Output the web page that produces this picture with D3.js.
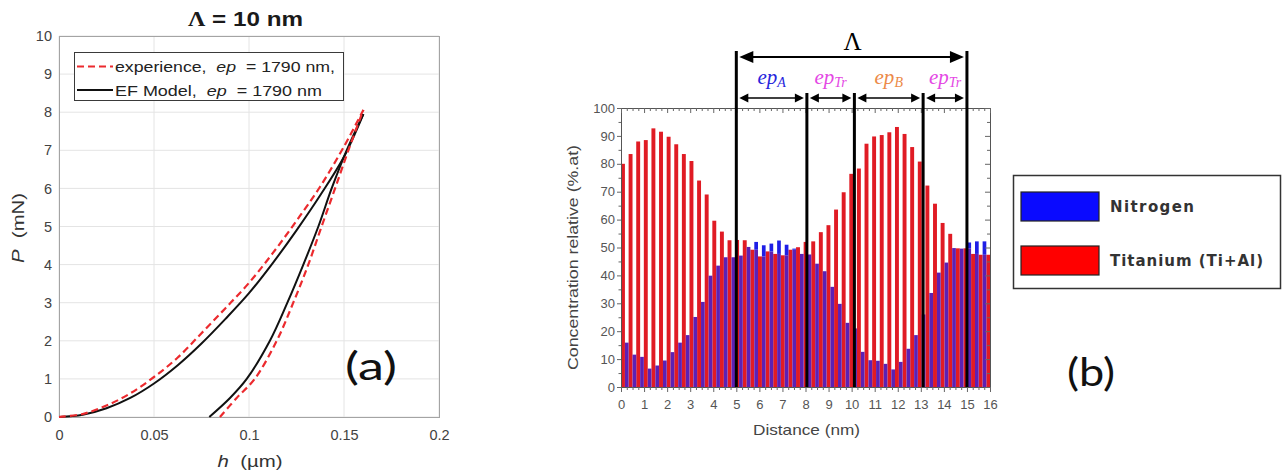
<!DOCTYPE html>
<html><head><meta charset="utf-8">
<script src="https://cdn.jsdelivr.net/npm/d3@7"></script>
<style>body{margin:0;background:#fff;} svg{display:block;}</style>
</head><body>
<svg id="c" width="1282" height="473"></svg>
<script>
// ---------- Panel (a) data: load-displacement curves ----------
const loadH        = [0, 0.0125, 0.025, 0.0375, 0.05, 0.0625, 0.075, 0.0875, 0.1, 0.1125, 0.125, 0.1375, 0.15, 0.1602];
const loadExpP     = [0, 0.08, 0.3, 0.62, 1.05, 1.56, 2.2, 2.85, 3.52, 4.3, 5.15, 6.05, 7.1, 8.06];
const loadModelP   = [0, 0.06, 0.23, 0.5, 0.88, 1.36, 1.93, 2.57, 3.25, 4.04, 4.9, 5.82, 6.83, 7.95];
const unloadExpH   = [0.0847, 0.0935, 0.103, 0.1146, 0.1233, 0.1312, 0.1382, 0.1453, 0.1523, 0.1602];
const unloadExpP   = [0, 0.5, 1, 2, 3, 4, 5, 6, 7, 8.06];
const unloadModelH = [0.0791, 0.09, 0.0988, 0.111, 0.1202, 0.1286, 0.1365, 0.1435, 0.1514, 0.1602];
const unloadModelP = [0, 0.5, 1, 2, 3, 4, 5, 6, 7, 7.95];
const hTicks       = [0, 0.05, 0.1, 0.15, 0.2];
const hTickLabels  = ['0', '0.05', '0.1', '0.15', '0.2'];
const pTicks       = [0, 1, 2, 3, 4, 5, 6, 7, 8, 9, 10];
const seriesA      = ['experience', 'EF Model'];

// ---------- Panel (b) data: concentration profile ----------
const distance = [0, 0.33, 0.66, 0.99, 1.32, 1.65, 1.98, 2.31, 2.64, 2.97, 3.3, 3.63, 3.96, 4.29, 4.62, 4.95,
  5.28, 5.61, 5.94, 6.27, 6.6, 6.93, 7.26, 7.59, 7.92, 8.25, 8.58, 8.91, 9.24, 9.57, 9.9, 10.23, 10.56, 10.89,
  11.22, 11.55, 11.88, 12.21, 12.54, 12.87, 13.2, 13.53, 13.86, 14.19, 14.52, 14.85, 15.18, 15.51, 15.84];
const titanium = [80, 83.5, 88, 88.5, 92.7, 91.5, 89.7, 87, 83.5, 81, 74, 69, 59.6, 55.7, 52.6, 52.7,
  52.6, 49.2, 46.8, 48.6, 47.7, 47.2, 49.2, 50.1, 52, 52.2, 55.5, 58, 63.6, 69.8, 76.4, 78.3, 87.2, 89.8,
  90.3, 91.3, 93.2, 90.7, 86, 80.8, 72.2, 65.7, 58.8, 54.9, 49.7, 49.7, 47.7, 47.4, 47.4];
const nitrogen = [15.9, 11.6, 10.8, 6.6, 7.7, 9.5, 12.5, 15.9, 18.6, 25.1, 30.5, 39.9, 43.5, 46.5, 46.5, 47.1,
  50.2, 52, 50.8, 51.4, 52.5, 51, 49.6, 47.7, 47.5, 44.2, 41.5, 35.9, 29.8, 23, 21, 12.6, 9.6, 9.4,
  8.3, 6.3, 9, 13.7, 18.6, 26, 33.7, 41, 44.6, 49.8, 49.6, 51.8, 52.2, 52.2, 52.2];
const distTicks   = [0,1,2,3,4,5,6,7,8,9,10,11,12,13,14,15,16];
const concTicks   = [0,10,20,30,40,50,60,70,80,90,100];
const boundaries  = [5, 8.06, 10.12, 13.1, 15];
const layerNames  = [['ep','A'], ['ep','Tr'], ['ep','B'], ['ep','Tr']];
const layerColors = ['#2626dc', '#e448e4', '#ec8a48', '#e448e4'];
const legendB     = ['Nitrogen', 'Titanium (Ti+Al)'];

const svg = d3.select('#c');
const SANS = 'Liberation Sans, Arial, sans-serif';

// ================= Panel (a) =================
const A = {x0: 59, x1: 439, y0: 417, y1: 36};
const xa = d3.scaleLinear().domain([0, 0.2]).range([A.x0, A.x1]);
const ya = d3.scaleLinear().domain([0, 10]).range([A.y0, A.y1]);
const gA = svg.append('g');

gA.append('rect').attr('x', A.x0).attr('y', A.y1).attr('width', A.x1 - A.x0).attr('height', A.y0 - A.y1).attr('fill', '#fff');
gA.selectAll('.gx').data(hTicks).join('line')
  .attr('x1', d => xa(d)).attr('x2', d => xa(d)).attr('y1', A.y0).attr('y2', A.y1)
  .attr('stroke', '#e4e4e4').attr('stroke-width', 1);
gA.selectAll('.gy').data(pTicks).join('line')
  .attr('y1', d => ya(d)).attr('y2', d => ya(d)).attr('x1', A.x0).attr('x2', A.x1)
  .attr('stroke', '#e4e4e4').attr('stroke-width', 1);
gA.append('rect').attr('x', A.x0 + 0.5).attr('y', A.y1 + 0.5).attr('width', A.x1 - A.x0).attr('height', A.y0 - A.y1)
  .attr('fill', 'none').attr('stroke', '#a4a4a4').attr('stroke-width', 1);

const axA_x = gA.append('g').attr('transform', `translate(0,${A.y0})`)
  .call(d3.axisBottom(xa).tickValues(hTicks).tickFormat((d, i) => hTickLabels[i]).tickSize(0).tickPadding(13));
const axA_y = gA.append('g').attr('transform', `translate(${A.x0},0)`)
  .call(d3.axisLeft(ya).tickValues(pTicks).tickFormat(d3.format('d')).tickSize(0).tickPadding(7));
[axA_x, axA_y].forEach(g => {
  g.select('.domain').remove();
  g.selectAll('text').attr('font-family', SANS).attr('font-size', 14.5).attr('fill', '#424242');
});

const lineA = d3.line().x(d => xa(d.h)).y(d => ya(d.p)).curve(d3.curveCatmullRom.alpha(0.5));
const zip = (hs, ps) => hs.map((h, i) => ({h, p: ps[i]}));
const modelCurves = [zip(loadH, loadModelP), zip(unloadModelH, unloadModelP)];
const expCurves = [zip(loadH, loadExpP), zip(unloadExpH, unloadExpP)];
gA.selectAll('.model').data(modelCurves).join('path').attr('d', lineA)
  .attr('fill', 'none').attr('stroke', '#111').attr('stroke-width', 2);
gA.selectAll('.exp').data(expCurves).join('path').attr('d', lineA)
  .attr('fill', 'none').attr('stroke', '#ec2a2e').attr('stroke-width', 2.2).attr('stroke-dasharray', '7,4');

// title
svg.append('text').attr('x', 245.5).attr('y', 26).attr('text-anchor', 'middle')
  .attr('font-family', SANS).attr('font-weight', 'bold').attr('font-size', 20).attr('fill', '#1a1a1a')
  .attr('textLength', 115).attr('lengthAdjust', 'spacingAndGlyphs')
  .call(t => { t.append('tspan').attr('font-family', 'Liberation Serif, serif').text('Λ'); t.append('tspan').text(' = 10 nm'); });

// axis titles
svg.append('text').attr('x', 250).attr('y', 467).attr('text-anchor', 'middle')
  .attr('font-family', SANS).attr('font-size', 16).attr('fill', '#333').style('white-space', 'pre')
  .attr('textLength', 65).attr('lengthAdjust', 'spacingAndGlyphs')
  .call(t => { t.append('tspan').attr('font-style', 'italic').text('h'); t.append('tspan').text('  (µm)'); });
svg.append('text').attr('transform', 'translate(24,228) rotate(-90)').attr('text-anchor', 'middle')
  .attr('font-family', SANS).attr('font-size', 16).attr('fill', '#333').style('white-space', 'pre')
  .attr('textLength', 70).attr('lengthAdjust', 'spacingAndGlyphs')
  .call(t => { t.append('tspan').attr('font-style', 'italic').text('P'); t.append('tspan').text('  (mN)'); });

// legend (a)
const legA = svg.append('g');
legA.append('rect').attr('x', 74.5).attr('y', 52.5).attr('width', 269).attr('height', 48)
  .attr('fill', '#fff').attr('stroke', '#3a3a3a').attr('stroke-width', 1);
const legRows = [
  {y: 66.5, stroke: '#ec2a2e', dash: '7,4', w: 2.2, name: seriesA[0], tail: '  = 1790 nm,', len: 220},
  {y: 90, stroke: '#111', dash: null, w: 2, name: seriesA[1], tail: '  = 1790 nm', len: 207}
];
legRows.forEach(r => {
  legA.append('line').attr('x1', 77).attr('x2', 113).attr('y1', r.y).attr('y2', r.y)
    .attr('stroke', r.stroke).attr('stroke-width', r.w).attr('stroke-dasharray', r.dash);
  legA.append('text').attr('x', 115).attr('y', r.y + 5.5).attr('font-family', SANS).attr('font-size', 15.5)
    .attr('fill', '#222').style('white-space', 'pre').attr('textLength', r.len).attr('lengthAdjust', 'spacingAndGlyphs')
    .call(t => {
      t.append('tspan').text(r.name + ',  ');
      t.append('tspan').attr('font-style', 'italic').text('ep');
      t.append('tspan').text(r.tail);
    });
});

// (a) label
svg.append('text').attr('x', 371).attr('y', 380).attr('text-anchor', 'middle')
  .attr('font-family', 'Lato, Open Sans, sans-serif').attr('font-size', 38).attr('fill', '#111')
  .attr('textLength', 52).attr('lengthAdjust', 'spacingAndGlyphs').text('(a)');

// ================= Panel (b) =================
const B = {x0: 621, x1: 990, y0: 387, y1: 108};
const xb = d3.scaleLinear().domain([0, 16]).range([B.x0, B.x1]);
const yb = d3.scaleLinear().domain([0, 100]).range([B.y0, B.y1]);
const gB = svg.append('g');
svg.append('defs').append('clipPath').attr('id', 'clipB').append('rect')
  .attr('x', B.x0).attr('y', B.y1).attr('width', B.x1 - B.x0).attr('height', B.y0 - B.y1);

const bars = distance.map((d, i) => ({d, ti: titanium[i], n: nitrogen[i]}));
const gBars = gB.append('g').attr('clip-path', 'url(#clipB)');
const RW = 0.17, GW = 0.33;
gBars.selectAll('.ti').data(bars).join('rect')
  .attr('x', b => xb(b.d)).attr('width', b => xb(b.d + RW) - xb(b.d))
  .attr('y', b => yb(b.ti)).attr('height', b => yb(0) - yb(b.ti)).attr('fill', '#e01b24');
gBars.selectAll('.nlow').data(bars).join('rect')
  .attr('x', b => xb(b.d + RW)).attr('width', b => xb(b.d + GW) - xb(b.d + RW))
  .attr('y', b => yb(Math.min(b.n, b.ti))).attr('height', b => yb(0) - yb(Math.min(b.n, b.ti))).attr('fill', '#5c20b4');
gBars.selectAll('.nhigh').data(bars.filter(b => b.n > b.ti)).join('rect')
  .attr('x', b => xb(b.d + RW)).attr('width', b => xb(b.d + GW) - xb(b.d + RW))
  .attr('y', b => yb(b.n)).attr('height', b => yb(b.ti) - yb(b.n)).attr('fill', '#1e1ee6');

// frame & ticks
gB.append('rect').attr('x', B.x0 + 0.5).attr('y', B.y1 + 0.5).attr('width', B.x1 - B.x0).attr('height', B.y0 - B.y1)
  .attr('fill', 'none').attr('stroke', '#555').attr('stroke-width', 1);
const minorX = d3.range(0, 16.001, 0.25).filter(v => Math.abs(v - Math.round(v)) > 1e-6);
const minorY = [5, 15, 25, 35, 45, 55, 65, 75, 85, 95];
const tickStyle = g => { g.select('.domain').remove(); g.selectAll('line').attr('stroke', '#666'); };
const labStyle = g => g.selectAll('text').attr('font-family', SANS).attr('font-size', 13).attr('fill', '#555');
gB.append('g').attr('transform', `translate(0,${B.y0})`)
  .call(d3.axisBottom(xb).tickValues(distTicks).tickFormat(d3.format('d')).tickSize(5).tickPadding(8)).call(tickStyle).call(labStyle);
gB.append('g').attr('transform', `translate(0,${B.y0})`)
  .call(d3.axisBottom(xb).tickValues(minorX).tickFormat('').tickSize(3)).call(tickStyle);
gB.append('g').attr('transform', `translate(0,${B.y1})`)
  .call(d3.axisTop(xb).tickValues(distTicks).tickFormat('').tickSize(-5)).call(tickStyle);
gB.append('g').attr('transform', `translate(0,${B.y1})`)
  .call(d3.axisTop(xb).tickValues(minorX).tickFormat('').tickSize(-3)).call(tickStyle);
gB.append('g').attr('transform', `translate(${B.x0},0)`)
  .call(d3.axisLeft(yb).tickValues(concTicks).tickFormat(d3.format('d')).tickSize(4).tickPadding(2)).call(tickStyle).call(labStyle);
gB.append('g').attr('transform', `translate(${B.x0},0)`)
  .call(d3.axisLeft(yb).tickValues(minorY).tickFormat('').tickSize(2.5)).call(tickStyle);
gB.append('g').attr('transform', `translate(${B.x1},0)`)
  .call(d3.axisRight(yb).tickValues(concTicks).tickFormat('').tickSize(-5)).call(tickStyle);
gB.append('g').attr('transform', `translate(${B.x1},0)`)
  .call(d3.axisRight(yb).tickValues(minorY).tickFormat('').tickSize(-3)).call(tickStyle);

// axis titles (b)
svg.append('text').attr('x', 806.5).attr('y', 435).attr('text-anchor', 'middle')
  .attr('font-family', SANS).attr('font-size', 15).attr('fill', '#444')
  .attr('textLength', 107).attr('lengthAdjust', 'spacingAndGlyphs').text('Distance (nm)');
svg.append('text').attr('transform', 'translate(578,257.5) rotate(-90)').attr('text-anchor', 'middle')
  .attr('font-family', SANS).attr('font-size', 14).attr('fill', '#444')
  .attr('textLength', 225).attr('lengthAdjust', 'spacingAndGlyphs').text('Concentration relative (%.at)');

// layer annotation
const gAnn = svg.append('g');
gAnn.selectAll('.bline').data(boundaries).join('line')
  .attr('x1', d => xb(d)).attr('x2', d => xb(d))
  .attr('y1', (d, i) => (i === 0 || i === boundaries.length - 1) ? 51 : 93).attr('y2', B.y0)
  .attr('stroke', '#000').attr('stroke-width', 3);

function arrow(g, xl, xr, y, head, half, w) {
  g.append('line').attr('x1', xl + head - 1).attr('x2', xr - head + 1).attr('y1', y).attr('y2', y)
    .attr('stroke', '#000').attr('stroke-width', w);
  g.append('path').attr('d', `M${xl},${y}L${xl + head},${y - half}L${xl + head},${y + half}Z`).attr('fill', '#000');
  g.append('path').attr('d', `M${xr},${y}L${xr - head},${y - half}L${xr - head},${y + half}Z`).attr('fill', '#000');
}
arrow(gAnn, xb(boundaries[0]) + 3, xb(boundaries[boundaries.length - 1]) - 3, 57, 14, 6, 2);
svg.append('text').attr('x', (xb(boundaries[0]) + xb(boundaries[4])) / 2 + 1).attr('y', 50).attr('text-anchor', 'middle')
  .attr('font-family', 'Liberation Serif, serif').attr('font-size', 25).attr('fill', '#000').text('Λ');

layerNames.forEach((nm, i) => {
  const xl = xb(boundaries[i]) + 3, xr = xb(boundaries[i + 1]) - 3;
  arrow(gAnn, xl, xr, 98, 9, 4.5, 1.6);
  const t = svg.append('text').attr('x', (xl + xr) / 2).attr('y', 84).attr('text-anchor', 'middle')
    .attr('font-family', 'Liberation Serif, serif').attr('font-style', 'italic').attr('font-size', 21).attr('fill', layerColors[i]);
  t.append('tspan').text(nm[0]);
  t.append('tspan').attr('font-size', 14).attr('dy', 3).text(nm[1]);
});

// legend (b)
const legB = svg.append('g');
legB.append('rect').attr('x', 1013.5).attr('y', 175.5).attr('width', 267).attr('height', 113)
  .attr('fill', '#fff').attr('stroke', '#333').attr('stroke-width', 1.5);
const legBColors = ['#0a0aff', '#ff0000'];
const legBY = [192, 246];
const legBLen = [84, 153];
legendB.forEach((name, i) => {
  legB.append('rect').attr('x', 1021).attr('y', legBY[i]).attr('width', 78).attr('height', 29)
    .attr('fill', legBColors[i]).attr('stroke', '#222').attr('stroke-width', 1.2);
  legB.append('text').attr('x', 1110).attr('y', legBY[i] + 20).attr('font-family', 'DejaVu Sans, sans-serif')
    .attr('font-weight', 600).attr('font-size', 15).attr('fill', '#333')
    .attr('textLength', legBLen[i]).attr('lengthAdjust', 'spacing').text(name);
});
svg.append('text').attr('x', 1091).attr('y', 386).attr('text-anchor', 'middle')
  .attr('font-family', 'Lato, Open Sans, sans-serif').attr('font-size', 38).attr('fill', '#111')
  .attr('textLength', 48).attr('lengthAdjust', 'spacingAndGlyphs').text('(b)');
</script>
</body></html>
